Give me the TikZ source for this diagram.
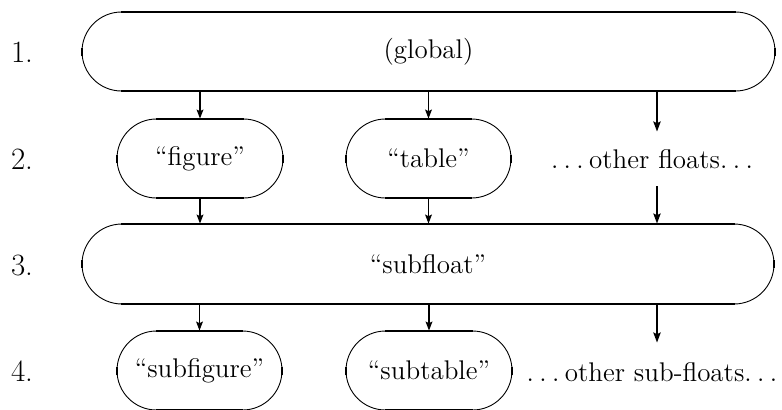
\documentclass[tikz,border=0pt]{standalone}
\usetikzlibrary{shapes.misc,arrows.meta}
\newcommand\thickrim[1]{%
  \draw[rim] ([xshift=19.75pt]#1.west |- #1.north) -- ([xshift=-19.75pt]#1.east |- #1.north);
  \draw[rim] ([xshift=19.75pt]#1.west |- #1.south) -- ([xshift=-19.75pt]#1.east |- #1.south);
  \draw[rim] ([yshift=2pt]#1.west) -- ([yshift=-2pt]#1.west);
  \draw[rim] ([yshift=2pt]#1.east) -- ([yshift=-2pt]#1.east);
}
\newcommand\dotsep{.\kern0.2em.\kern0.2em.}
\begin{document}
\begin{tikzpicture}[x=0.5pt,y=-0.5pt,
  stad/.style={rounded rectangle, draw, line width=0.45pt, inner sep=0pt,
    minimum height=39.5pt, font=\fontsize{13.5}{15}\selectfont},
  rim/.style={line width=1pt},
  txt/.style={inner sep=0pt, font=\fontsize{13.5}{15}\selectfont},
  lab/.style={inner sep=0pt, font=\fontsize{15.5}{18}\selectfont},
  arr/.style={line width=0.6pt, -{Stealth[length=4.5pt,width=3.4pt,inset=0.8pt]}},
  arrb/.style={line width=1pt, -{Stealth[length=5pt,width=3.6pt,inset=0.8pt]}}]
\useasboundingbox (0,0) rectangle (782,409);
% boxes
\node[stad, minimum width=346.5pt] (glob) at (428.5,51.5) {(global)};
\node[stad, minimum width=83pt] (fig) at (200,158.5) {``figure''};
\node[stad, minimum width=82.5pt] (tab) at (428.5,158.5) {``table''};
\node[txt, minimum height=27pt] (of) at (652,159) {\dotsep\kern0.2em other floats\dotsep};
\node[stad, minimum width=346pt, minimum height=40pt] (sub) at (428,264) {``subfloat''};
\node[stad, minimum width=82.5pt] (sfig) at (199.5,370.5) {``subfigure''};
\node[stad, minimum width=83pt] (stab) at (429,370.5) {``subtable''};
\node[txt, minimum height=29pt] (osf) at (652,372) {\dotsep\kern0.2em other sub-floats\dotsep};
\thickrim{glob}
\thickrim{fig}
\thickrim{tab}
\thickrim{sub}
\thickrim{sfig}
\thickrim{stab}
% row labels
\node[lab] (l1) at (22,52.5) {1.};
\node[lab] (l2) at (22,159) {2.};
\node[lab] (l3) at (22,265) {3.};
\node[lab] (l4) at (22,371) {4.};
% arrow column for other floats
\coordinate (ox) at (657,0);
% arrows
\draw[arr] (fig.north |- glob.south) -- (fig.north);
\draw[arr] (tab.north |- glob.south) -- (tab.north);
\draw[arrb] (glob.south -| ox) -- (of.north -| ox);
\draw[arr] (fig.south) -- (fig.south |- sub.north);
\draw[arr] (tab.south) -- (tab.south |- sub.north);
\draw[arrb] (of.south -| ox) -- (sub.north -| ox);
\draw[arr] (sfig.north |- sub.south) -- (sfig.north);
\draw[arr] (stab.north |- sub.south) -- (stab.north);
\draw[arrb] (sub.south -| ox) -- (osf.north -| ox);
\end{tikzpicture}
\end{document}
